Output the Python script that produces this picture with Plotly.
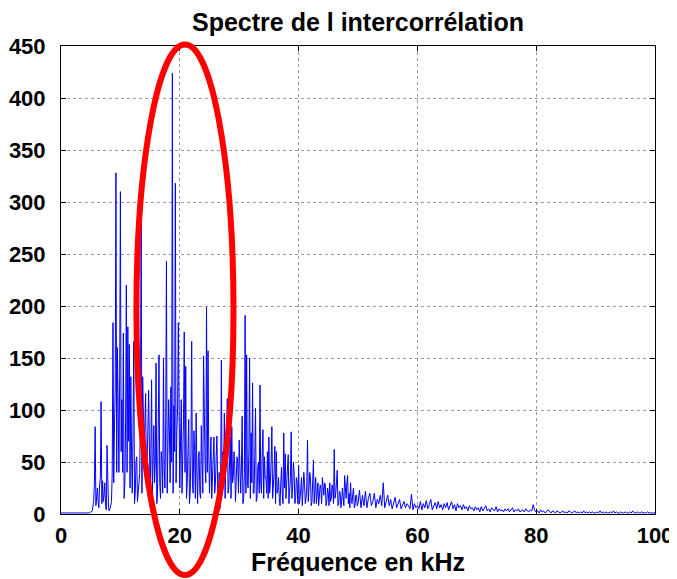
import plotly.graph_objects as go

title_text = "Spectre de l intercorrélation"
x_label = "Fréquence en kHz"
x_ticks = [0, 20, 40, 60, 80, 100]
y_ticks = [0, 50, 100, 150, 200, 250, 300, 350, 400, 450]

# amplitude
# 0 - 5 kHz, 0.25 kHz steps
amp_00_05 = [1, 1, 1, 1, 1, 1, 1, 1, 1, 1, 1, 1, 1, 1, 1, 1, 1, 1, 1, 1]
# 5 - 50 kHz, 0.125 kHz steps (dense part of the spectrum)
amp_05_10 = [2, 2, 3, 10, 12, 30, 84, 8, 16, 25, 12, 6, 28, 35, 108, 10, 32, 12, 18, 30,
             8, 4, 66, 10, 6, 3, 5, 8, 12, 40, 184, 30, 84, 120, 328, 40, 160, 90, 40, 130]
amp_10_15 = [310, 60, 110, 40, 174, 15, 30, 90, 220, 40, 180, 70, 163, 25, 132, 60, 20, 80, 166, 10,
             20, 50, 55, 12, 18, 30, 40, 100, 299, 20, 132, 70, 60, 90, 116, 25, 45, 80, 119, 30]
amp_15_20 = [20, 60, 129, 15, 60, 85, 30, 50, 145, 10, 20, 70, 153, 30, 15, 60, 50, 20, 150, 45,
             25, 90, 243, 20, 60, 110, 80, 30, 122, 50, 424, 20, 104, 60, 318, 30, 80, 100, 184, 40]
amp_20_25 = [25, 70, 110, 20, 50, 90, 175, 40, 142, 15, 30, 75, 91, 10, 20, 60, 166, 30, 20, 80,
             60, 15, 97, 40, 10, 55, 60, 20, 15, 85, 40, 20, 152, 60, 50, 30, 199, 40, 157, 60]
amp_25_30 = [20, 50, 74, 15, 40, 60, 74, 20, 30, 55, 75, 25, 10, 40, 5, 30, 148, 20, 60, 40,
             97, 15, 40, 70, 111, 20, 25, 50, 74, 15, 84, 30, 35, 60, 45, 12, 38, 55, 50, 20]
amp_30_35 = [71, 25, 20, 45, 94, 10, 15, 40, 191, 20, 153, 30, 25, 60, 150, 15, 78, 30, 126, 20,
             20, 55, 102, 12, 15, 45, 50, 20, 124, 30, 20, 60, 81, 15, 55, 35, 35, 20, 60, 15]
amp_35_40 = [74, 20, 30, 50, 84, 15, 25, 40, 65, 10, 60, 20, 23, 35, 15, 8, 30, 45, 20, 10,
             78, 25, 58, 15, 30, 45, 57, 10, 20, 35, 79, 15, 25, 50, 40, 10, 15, 35, 30, 10]
amp_40_45 = [47, 10, 15, 30, 35, 8, 20, 40, 30, 10, 15, 25, 71, 12, 25, 40, 35, 8, 12, 30,
             52, 10, 20, 35, 10, 20, 30, 8, 15, 28, 25, 10, 35, 20, 18, 30, 28, 8, 12, 25]
amp_45_50 = [20, 8, 30, 12, 15, 28, 25, 10, 62, 15, 20, 30, 42, 8, 10, 22, 20, 6, 12, 25,
             18, 8, 37, 15, 15, 30, 37, 10, 20, 6, 30, 12, 10, 20, 25, 6, 8, 18, 18, 8]
# 50 - 100 kHz, 0.25 kHz steps
amp_50_55 = [10, 23, 6, 18, 8, 22, 6, 15, 20, 8, 12, 20, 6, 14, 10, 18, 8, 30, 6, 12]
amp_55_60 = [18, 8, 14, 5, 12, 16, 6, 10, 14, 5, 9, 12, 6, 10, 8, 5, 19, 4, 10, 6]
amp_60_65 = [8, 5, 12, 4, 10, 6, 13, 5, 9, 14, 4, 8, 11, 5, 12, 6, 9, 4, 10, 6]
amp_65_70 = [11, 4, 8, 12, 5, 9, 3, 10, 6, 8, 4, 9, 5, 7, 3, 8, 5, 6, 3, 7]
amp_70_75 = [4, 6, 2, 7, 3, 5, 8, 3, 5, 2, 6, 4, 3, 7, 2, 5, 3, 4, 2, 5]
amp_75_80 = [3, 5, 2, 4, 6, 2, 4, 3, 5, 2, 3, 4, 2, 5, 3, 2, 4, 3, 9, 3]
amp_80_85 = [2, 3, 1, 4, 2, 3, 1, 2, 4, 2, 1, 3, 2, 1, 3, 2, 1, 2, 3, 1]
amp_85_90 = [2, 1, 3, 2, 1, 2, 3, 1, 2, 1, 2, 1, 3, 1, 2, 1, 2, 1, 2, 1]
amp_90_95 = [1, 2, 1, 3, 1, 2, 1, 2, 1, 1, 2, 1, 3, 1, 2, 1, 1, 2, 1, 1]
amp_95_100 = [2, 1, 1, 2, 1, 3, 1, 1, 2, 1, 1, 2, 1, 1, 1, 2, 1, 1, 1, 1, 1]

seg_low = amp_00_05
seg_dense = (amp_05_10 + amp_10_15 + amp_15_20 + amp_20_25 + amp_25_30
             + amp_30_35 + amp_35_40 + amp_40_45 + amp_45_50)
seg_high = (amp_50_55 + amp_55_60 + amp_60_65 + amp_65_70 + amp_70_75 + amp_75_80
            + amp_80_85 + amp_85_90 + amp_90_95 + amp_95_100)

freq_khz = ([0 + i * 0.25 for i in range(len(seg_low))]
            + [5 + i * 0.125 for i in range(len(seg_dense))]
            + [50 + i * 0.25 for i in range(len(seg_high))])
amplitude = seg_low + seg_dense + seg_high

FONT = "Liberation Sans, Arial, sans-serif"
FIG_W, FIG_H = 669, 571  # page body adds an 8 px offset

fig = go.Figure()
fig.add_trace(go.Scatter(x=freq_khz, y=amplitude, mode="lines",
                         line=dict(color="#0000FF", width=1), showlegend=False))

axis_common = dict(showline=True, linecolor="black", linewidth=1, mirror="ticks",
                   ticks="inside", ticklen=5, tickcolor="black",
                   showgrid=True, gridcolor="#9a9a9a", griddash="dot", gridwidth=1,
                   zeroline=False, automargin=False,
                   tickfont=dict(family=FONT, size=22, color="black", weight="bold"))

fig.update_xaxes(range=[0, 100], tickvals=x_ticks, ticklabelstandoff=2,
                 title=dict(text=x_label, standoff=1,
                            font=dict(family=FONT, size=25, color="black", weight="bold")),
                 **axis_common)
fig.update_yaxes(range=[0, 450], tickvals=y_ticks, ticklabelstandoff=10, **axis_common)

fig.update_layout(
    width=FIG_W, height=FIG_H,
    margin=dict(l=53, r=22, t=38, b=65),
    paper_bgcolor="white", plot_bgcolor="white",
    title=dict(text=title_text, x=0.5, xref="paper", xanchor="center",
               y=1 - 14 / FIG_H, yref="container", yanchor="middle",
               font=dict(family=FONT, size=25, color="black", weight="bold")),
    shapes=[dict(type="circle", xref="paper", yref="paper",
                 x0=0.127, x1=0.2904, y0=-0.1305, y1=1.0032,
                 line=dict(color="#FF0000", width=6), layer="above")],
)

fig.write_html("out.html")
